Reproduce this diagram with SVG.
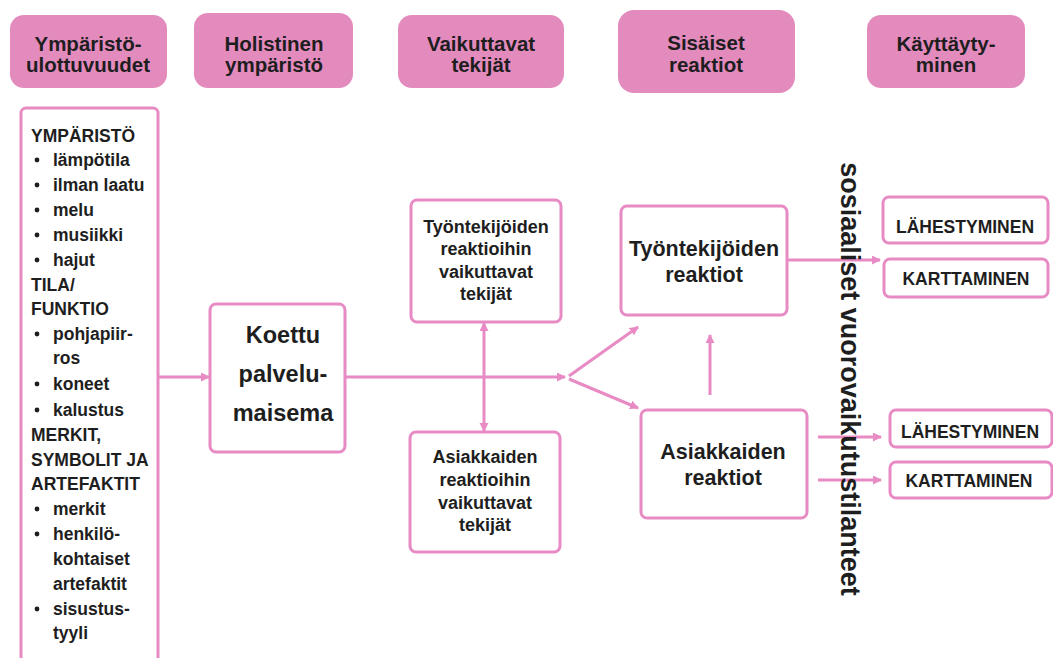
<svg xmlns="http://www.w3.org/2000/svg" width="1053" height="658" viewBox="0 0 1053 658">
<style>
.hdr{fill:#e48bbe;}
.box{fill:#fff;stroke:#e88ac4;stroke-width:3;}
.t{font-family:"Liberation Sans",Arial,sans-serif;font-weight:bold;fill:#1e1e1e;}
.h{font-size:20.5px;text-anchor:middle;}
.l{font-size:17.5px;}
.f{font-size:18px;text-anchor:middle;}
.r{font-size:21.5px;text-anchor:middle;}
.k{font-size:23.5px;text-anchor:middle;}
.b{font-size:17.5px;text-anchor:middle;}
.c{fill:none;stroke:#e88ac4;stroke-width:3;}
</style>
<defs>
<marker id="ah" markerUnits="userSpaceOnUse" markerWidth="10" markerHeight="10" refX="8" refY="4.5" orient="auto-start-reverse">
<path d="M0,0 L9,4.5 L0,9 z" fill="#e88ac4"/>
</marker>
</defs>
<rect width="1053" height="658" fill="#fff"/>

<g id="header1"><rect class="hdr" x="10" y="15" width="157" height="73" rx="14"/><text class="t h" x="88" y="51">Ympäristö-</text><text class="t h" x="88" y="72">ulottuvuudet</text></g>
<g id="header2"><rect class="hdr" x="194" y="13" width="159" height="75" rx="14"/><text class="t h" x="274" y="51">Holistinen</text><text class="t h" x="274" y="72">ympäristö</text></g>
<g id="header3"><rect class="hdr" x="398" y="15" width="166" height="73" rx="14"/><text class="t h" x="481" y="51">Vaikuttavat</text><text class="t h" x="481" y="72">tekijät</text></g>
<g id="header4"><rect class="hdr" x="618" y="10" width="177" height="83" rx="16"/><text class="t h" x="706" y="50">Sisäiset</text><text class="t h" x="706" y="72">reaktiot</text></g>
<g id="header5"><rect class="hdr" x="867" y="15" width="158" height="73" rx="14"/><text class="t h" x="946" y="51">Käyttäyty-</text><text class="t h" x="946" y="72">minen</text></g>

<g id="dimensions">
<rect class="box" x="21" y="108" width="137" height="565" rx="5"/>
<g class="t l">
<text x="31" y="142">YMPÄRISTÖ</text>
<text x="53" y="166">lämpötila</text>
<text x="53" y="191">ilman laatu</text>
<text x="53" y="216">melu</text>
<text x="53" y="241">musiikki</text>
<text x="53" y="266">hajut</text>
<text x="31" y="291">TILA/</text>
<text x="31" y="315">FUNKTIO</text>
<text x="53" y="340">pohjapiir-</text>
<text x="53" y="364">ros</text>
<text x="53" y="390">koneet</text>
<text x="53" y="416">kalustus</text>
<text x="31" y="441">MERKIT,</text>
<text x="31" y="466">SYMBOLIT JA</text>
<text x="31" y="490">ARTEFAKTIT</text>
<text x="53" y="515">merkit</text>
<text x="53" y="540">henkilö-</text>
<text x="53" y="565">kohtaiset</text>
<text x="53" y="590">artefaktit</text>
<text x="53" y="615">sisustus-</text>
<text x="53" y="639">tyyli</text>
</g>
<g fill="#1e1e1e">
<circle cx="37" cy="160" r="2.4"/>
<circle cx="37" cy="185" r="2.4"/>
<circle cx="37" cy="210" r="2.4"/>
<circle cx="37" cy="235" r="2.4"/>
<circle cx="37" cy="260" r="2.4"/>
<circle cx="37" cy="334" r="2.4"/>
<circle cx="37" cy="384" r="2.4"/>
<circle cx="37" cy="410" r="2.4"/>
<circle cx="37" cy="509" r="2.4"/>
<circle cx="37" cy="534" r="2.4"/>
<circle cx="37" cy="609" r="2.4"/>
</g>
</g>

<g id="koettu"><rect class="box" x="210" y="304" width="135" height="148" rx="6"/><text class="t k" x="283" y="343">Koettu</text><text class="t k" x="283" y="382">palvelu-</text><text class="t k" x="283" y="421">maisema</text></g>

<g id="factors-employee"><rect class="box" x="411" y="200" width="150" height="122" rx="6"/><text class="t f" x="486" y="233">Työntekijöiden</text><text class="t f" x="486" y="255">reaktioihin</text><text class="t f" x="486" y="278">vaikuttavat</text><text class="t f" x="486" y="300">tekijät</text></g>
<g id="factors-customer"><rect class="box" x="410" y="432" width="150" height="120" rx="6"/><text class="t f" x="485" y="463">Asiakkaiden</text><text class="t f" x="485" y="486">reaktioihin</text><text class="t f" x="485" y="509">vaikuttavat</text><text class="t f" x="485" y="531">tekijät</text></g>

<g id="reactions-employee"><rect class="box" x="621" y="206" width="166" height="109" rx="6"/><text class="t r" x="704" y="256">Työntekijöiden</text><text class="t r" x="704" y="282">reaktiot</text></g>
<g id="reactions-customer"><rect class="box" x="641" y="410" width="166" height="108" rx="6"/><text class="t r" x="723" y="459">Asiakkaiden</text><text class="t r" x="723" y="485">reaktiot</text></g>

<g id="approach1"><rect class="box" x="883" y="197" width="165" height="46" rx="6"/><text class="t b" x="965" y="233">LÄHESTYMINEN</text></g>
<g id="avoid1"><rect class="box" x="884" y="259" width="164" height="38" rx="6"/><text class="t b" x="966" y="285">KARTTAMINEN</text></g>
<g id="approach2"><rect class="box" x="890" y="410" width="162" height="37" rx="6"/><text class="t b" x="970" y="438">LÄHESTYMINEN</text></g>
<g id="avoid2"><rect class="box" x="890" y="462" width="162" height="36" rx="6"/><text class="t b" x="969" y="487">KARTTAMINEN</text></g>

<g id="connectors">
<line class="c" x1="158" y1="377" x2="209" y2="377" marker-end="url(#ah)"/>
<line class="c" x1="345" y1="377" x2="565" y2="377" marker-end="url(#ah)"/>
<line class="c" x1="484" y1="323" x2="484" y2="431" marker-start="url(#ah)" marker-end="url(#ah)"/>
<line class="c" x1="569" y1="376" x2="638" y2="327" marker-end="url(#ah)"/>
<line class="c" x1="569" y1="379" x2="638" y2="408" marker-end="url(#ah)"/>
<line class="c" x1="710" y1="395" x2="710" y2="335" marker-end="url(#ah)"/>
<line class="c" x1="787" y1="260" x2="880" y2="260" marker-end="url(#ah)"/>
<line class="c" x1="818" y1="437" x2="881" y2="437" marker-end="url(#ah)"/>
<line class="c" x1="818" y1="480" x2="881" y2="480" marker-end="url(#ah)"/>
</g>

<g id="vertical-label"><text class="t" font-size="27" text-anchor="middle" transform="translate(841,379) rotate(90)" x="0" y="0">sosiaaliset vuorovaikutustilanteet</text></g>
</svg>
